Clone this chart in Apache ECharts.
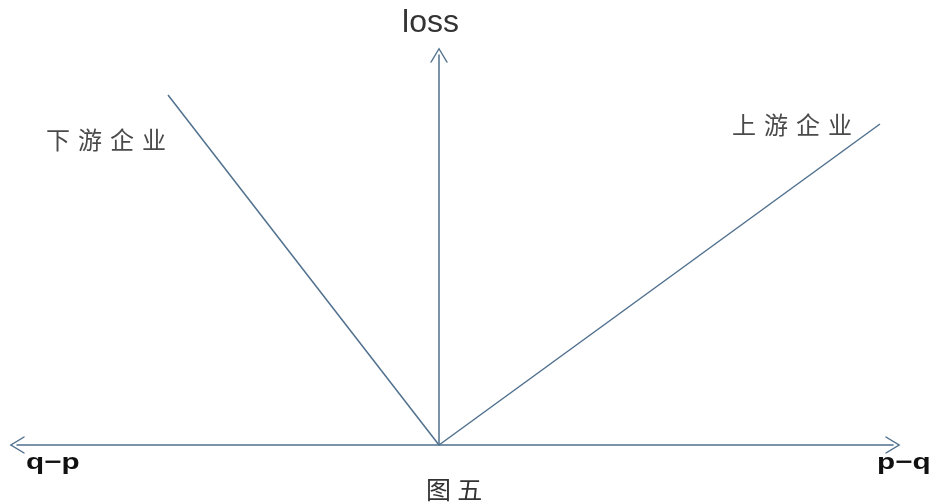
<!DOCTYPE html>
<html>
<head>
<meta charset="utf-8">
<script src="https://cdn.jsdelivr.net/npm/echarts@6/dist/echarts.min.js"></script>
<style>
  html, body { margin: 0; padding: 0; background: #fff; }
  #chart { width: 933px; height: 503px; }
</style>
</head>
<body>
<div id="chart"></div>
<script>
// x: distance along p−q (negative = q−p), y: loss
const downstreamLine = [[0, 0], [-271, 350]]
const upstreamLine = [[0, 0], [441, 321]]
const xRange = [-422, 454]
const yRange = [0, 390]

const lineColor = '#50708e'
const chevron = 'path://M0,15 L9,0 L18,15 L16.4,15 L9,2.6 L1.6,15 Z'
const cjkGap = '\u2004'

const chart = echarts.init(document.getElementById('chart'))

chart.setOption({
  animation: false,
  grid: { left: 17, right: 40, top: 55, bottom: 58 },
  xAxis: {
    type: 'value',
    min: xRange[0],
    max: xRange[1],
    axisLine: {
      onZero: false,
      symbol: [chevron, chevron],
      symbolSize: [18, 15],
      lineStyle: { color: lineColor, width: 1.5 },
    },
    axisTick: { show: false },
    axisLabel: { show: false },
    splitLine: { show: false },
  },
  yAxis: {
    type: 'value',
    min: yRange[0],
    max: yRange[1],
    name: 'loss',
    nameGap: 16,
    nameTextStyle: {
      fontSize: 32, color: '#333', fontFamily: 'Liberation Sans',
      align: 'center', padding: [0, 17, 0, 0],
    },
    axisLine: {
      onZero: true,
      symbol: ['none', chevron],
      symbolSize: [18, 15],
      lineStyle: { color: lineColor, width: 1.5 },
    },
    axisTick: { show: false },
    axisLabel: { show: false },
    splitLine: { show: false },
  },
  series: [
    {
      type: 'line',
      data: downstreamLine,
      showSymbol: false,
      lineStyle: { color: lineColor, width: 1.5 },
    },
    {
      type: 'line',
      data: upstreamLine,
      showSymbol: false,
      lineStyle: { color: lineColor, width: 1.5 },
    },
  ],
  graphic: [
    {
      type: 'text', left: 46, top: 128,
      style: { text: ['下', '游', '企', '业'].join(cjkGap), fontSize: 24, fill: '#4a4a4a', fontFamily: 'Noto Sans CJK SC' },
    },
    {
      type: 'text', left: 732, top: 113,
      style: { text: ['上', '游', '企', '业'].join(cjkGap), fontSize: 24, fill: '#4a4a4a', fontFamily: 'Noto Sans CJK SC' },
    },
    {
      type: 'text', x: 26, y: 452, scaleX: 1.35,
      style: { text: 'q−p', fontSize: 22, fontWeight: 'bold', fill: '#111', fontFamily: 'Liberation Sans' },
    },
    {
      type: 'text', x: 877, y: 452, scaleX: 1.35,
      style: { text: 'p−q', fontSize: 22, fontWeight: 'bold', fill: '#111', fontFamily: 'Liberation Sans' },
    },
    {
      type: 'text', left: 426, top: 477,
      style: { text: '图\u2005五', fontSize: 25, fill: '#333', fontFamily: 'Noto Sans CJK SC' },
    },
  ],
})
</script>
</body>
</html>
